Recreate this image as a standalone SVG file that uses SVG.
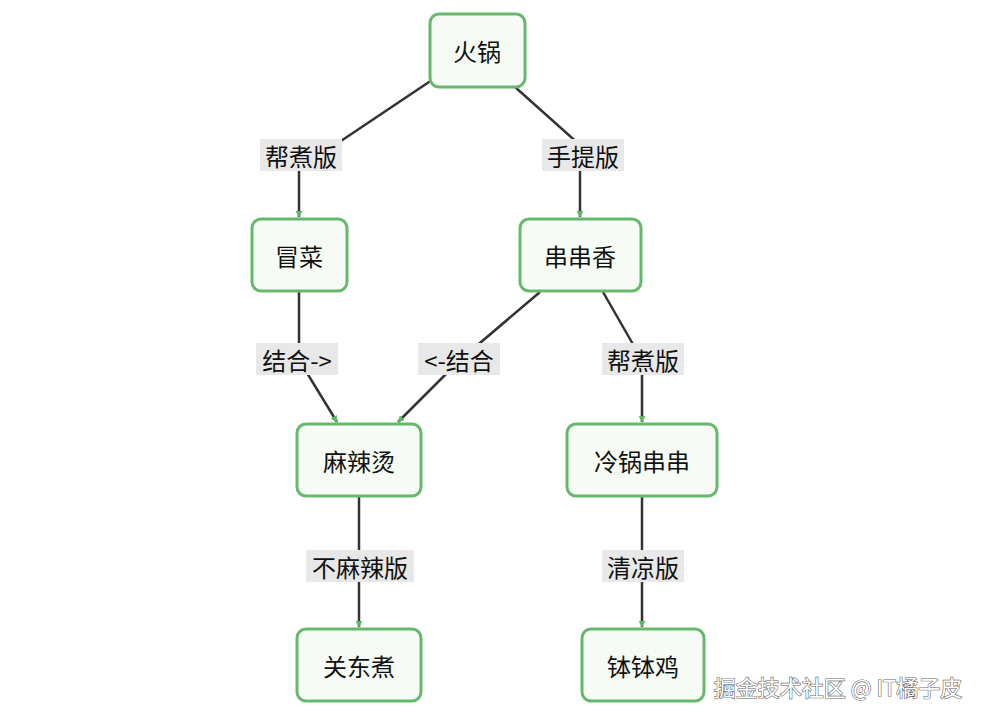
<svg xmlns="http://www.w3.org/2000/svg" width="1000" height="720" viewBox="0 0 1000 720">
<defs>
<style>
.n rect{fill:#f6fbf5;stroke:#66b96c;stroke-width:3}
text{font-family:"Noto Sans CJK SC","Liberation Sans",sans-serif;font-size:24px;fill:#111;text-anchor:middle;dominant-baseline:central}
.e path{fill:none;stroke:#333;stroke-width:2.5}
.l rect{fill:#e8e8e8}
</style>
<marker id="a" viewBox="0 0 10 10" refX="9" refY="5" markerWidth="7" markerHeight="7" markerUnits="userSpaceOnUse" orient="auto"><path d="M0,0L10,5L0,10z" fill="#5cb865"/></marker>
</defs>
<rect width="1000" height="720" fill="#fff"/>
<g class="e">
<path d="M432,80 L320,155 L299,170 L299,217" marker-end="url(#a)"/>
<path d="M515,87 L580,145 L580,217" marker-end="url(#a)"/>
<path d="M299,291 L299,360 L337,422" marker-end="url(#a)"/>
<path d="M540,292 L460,360 L398,422" marker-end="url(#a)"/>
<path d="M603,292 L642,360 L642,422" marker-end="url(#a)"/>
<path d="M359,496 L359,627" marker-end="url(#a)"/>
<path d="M642,496 L642,627" marker-end="url(#a)"/>
</g>
<g class="l">
<rect x="260" y="139" width="82" height="32"/><text x="301" y="155">帮煮版</text>
<rect x="542" y="139" width="82" height="32"/><text x="583" y="155">手提版</text>
<rect x="256" y="343" width="82" height="32"/><text x="297" y="359">结合-&gt;</text>
<rect x="418" y="343" width="82" height="32"/><text x="459" y="359">&lt;-结合</text>
<rect x="602" y="343" width="82" height="32"/><text x="643" y="359">帮煮版</text>
<rect x="306" y="550" width="108" height="32"/><text x="360" y="566">不麻辣版</text>
<rect x="602" y="550" width="82" height="32"/><text x="643" y="566">清凉版</text>
</g>
<g id="n1" class="n"><rect x="430" y="14" width="95" height="73" rx="9"/><text x="477" y="50">火锅</text></g>
<g id="n2" class="n"><rect x="252" y="219" width="95" height="72" rx="9"/><text x="299" y="255">冒菜</text></g>
<g id="n3" class="n"><rect x="520" y="219" width="121" height="72" rx="9"/><text x="580" y="255">串串香</text></g>
<g id="n4" class="n"><rect x="297" y="424" width="124" height="72" rx="9"/><text x="359" y="460">麻辣烫</text></g>
<g id="n5" class="n"><rect x="567" y="424" width="150" height="72" rx="9"/><text x="642" y="460">冷锅串串</text></g>
<g id="n6" class="n"><rect x="297" y="629" width="124" height="72" rx="9"/><text x="359" y="665">关东煮</text></g>
<g id="n7" class="n"><rect x="582" y="629" width="122" height="72" rx="9"/><text x="643" y="665">钵钵鸡</text></g>
<text x="838" y="686" style="font-size:22px;fill:#fff;stroke:#666;stroke-width:1.2;paint-order:stroke">掘金技术社区 @ IT橘子皮</text>
</svg>
